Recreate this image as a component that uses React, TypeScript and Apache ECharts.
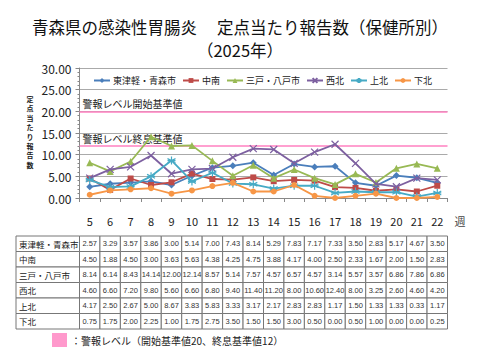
import React, { useEffect, useRef } from "react";
import * as echarts from "echarts";

const weeks = ["5", "6", "7", "8", "9", "10", "11", "12", "13", "14", "15", "16", "17", "18", "19", "20", "21", "22"];
const names = ["東津軽・青森市", "中南", "三戸・八戸市", "西北", "上北", "下北"];
const higashitsugaru = [2.57, 3.29, 3.57, 3.86, 3.0, 5.14, 7.0, 7.43, 8.14, 5.29, 7.83, 7.17, 7.33, 3.5, 2.83, 5.17, 4.67, 3.5];
const chunan = [4.5, 1.88, 4.5, 3.0, 3.63, 5.63, 4.38, 4.25, 4.75, 3.88, 4.17, 4.0, 2.5, 2.33, 1.67, 2.0, 1.5, 2.83];
const sannohe = [8.14, 6.14, 8.43, 14.14, 12.0, 12.14, 8.57, 5.14, 7.57, 4.57, 6.57, 4.57, 3.14, 5.57, 3.57, 6.86, 7.86, 6.86];
const seihoku = [4.6, 6.6, 7.2, 9.8, 5.6, 6.6, 6.8, 9.4, 11.4, 11.2, 8.0, 10.6, 12.4, 8.0, 3.25, 2.6, 4.6, 4.2];
const kamikita = [4.17, 2.5, 2.67, 5.0, 8.67, 3.83, 5.83, 3.33, 3.17, 2.17, 2.83, 2.83, 1.17, 1.5, 1.33, 1.33, 0.33, 1.17];
const shimokita = [0.75, 1.75, 2.0, 2.25, 1.0, 1.75, 2.75, 3.5, 1.5, 1.5, 3.0, 0.5, 0.0, 0.5, 1.0, 0.0, 0.0, 0.25];
const seriesData = [higashitsugaru, chunan, sannohe, seihoku, kamikita, shimokita];
const colors = ["#4A7EBB", "#BE4B48", "#98B954", "#7D60A0", "#46AAC5", "#F79646"];
const alertStart = 20;
const alertEnd = 12;
const yTicks = { min: 0, max: 30, interval: 5 };
const yNameChars = ["定", "点", "当", "た", "り", "報", "告", "数"];

const F = "'Noto Sans CJK JP', 'Noto Sans', sans-serif";

const xPath = "path://M0,0L10,10M10,0L0,10";
const starPath = "path://M5,0L5,10M0,2.5L10,7.5M0,7.5L10,2.5M0,5L10,5";

export default function App() {
  const ref = useRef<HTMLDivElement>(null);
  useEffect(() => {
    if (!ref.current) return;
    const chart = echarts.init(ref.current, null, { renderer: "svg" });
    const gridLeft = 79.5;
    const gridRight = 447.5;
    const gridTop = 68;
    const gridBottom = 198;
    const cw = (gridRight - gridLeft) / weeks.length;

    const symbols = ["diamond", "rect", "triangle", xPath, starPath, "circle"];
    const sizes = [7, 6, 7, 7, 8, 6];

    const series: any[] = seriesData.map((d, i) => {
      const stroked = i === 3 || i === 4;
      return {
        name: names[i],
        type: "line",
        data: d,
        symbol: symbols[i],
        symbolSize: sizes[i],
        lineStyle: { color: colors[i], width: 1.8 },
        itemStyle: stroked
          ? { color: "rgba(0,0,0,0)", borderColor: colors[i], borderWidth: 1.2 }
          : { color: colors[i] },
        z: 3 + i,
      };
    });
    series[0].markLine = {
      silent: true,
      symbol: "none",
      lineStyle: { color: "#FF80C0", width: 1.5, type: "solid" },
      label: {
        position: "insideStartTop",
        color: "#222",
        fontSize: 10,
        fontFamily: F,
        distance: [3, 3],
      },
      data: [
        { yAxis: alertStart, label: { formatter: "警報レベル開始基準値" } },
        { yAxis: alertEnd, label: { formatter: "警報レベル終息基準値" } },
      ],
    };

    const tableTop = 236;
    const rh = 15.5;
    const tableLeft = 16;
    const graphics: any[] = [];
    names.forEach((n, r) => {
      const y = tableTop + r * rh;
      graphics.push({
        type: "rect",
        shape: { x: tableLeft, y, width: gridLeft - tableLeft, height: rh },
        style: { fill: "#fff", stroke: "#777", lineWidth: 1 },
      });
      graphics.push({
        type: "text",
        x: tableLeft + 3,
        y: y + rh / 2,
        style: { text: n, fontSize: 8.5, fontFamily: F, fill: "#222", verticalAlign: "middle" },
      });
      seriesData[r].forEach((v, c) => {
        const x = gridLeft + c * cw;
        graphics.push({
          type: "rect",
          shape: { x, y, width: cw, height: rh },
          style: { fill: "#fff", stroke: "#777", lineWidth: 1 },
        });
        graphics.push({
          type: "text",
          x: x + cw / 2,
          y: y + rh / 2,
          style: {
            text: v.toFixed(2),
            fontSize: 7.5,
            fontFamily: "'Liberation Sans', Arial, sans-serif",
            fill: "#333",
            align: "center",
            verticalAlign: "middle",
          },
        });
      });
    });
    graphics.push({
      type: "rect",
      shape: { x: 52, y: 333, width: 15, height: 14 },
      style: { fill: "#FF99CC" },
    });
    graphics.push({
      type: "text",
      x: 71,
      y: 340,
      style: {
        text: "：警報レベル（開始基準値20、終息基準値12）",
        fontSize: 10,
        fontFamily: F,
        fill: "#222",
        verticalAlign: "middle",
      },
    });
    const step = 9.4;
    yNameChars.forEach((ch, k) => {
      graphics.push({
        type: "text",
        x: 30,
        y: 99 + k * step,
        style: {
          text: ch,
          fontSize: 7,
          fontFamily: F,
          fontWeight: "bold",
          fill: "#222",
          align: "center",
          verticalAlign: "middle",
        },
      });
    });
    graphics.push({
      type: "text",
      x: 460,
      y: 221,
      style: { text: "週", fontSize: 11, fontFamily: F, fill: "#444", align: "center", verticalAlign: "middle" },
    });

    chart.setOption({
      animation: false,
      backgroundColor: "#fff",
      title: {
        text: "青森県の感染性胃腸炎　 定点当たり報告数（保健所別）\n（2025年）",
        left: "center",
        top: 10,
        textStyle: { fontSize: 16.5, fontWeight: "normal", fontFamily: F, color: "#111", lineHeight: 23, align: "center" },
      },
      legend: {
        top: 71,
        left: 88,
        itemWidth: 16,
        itemHeight: 6,
        itemGap: 6,
        textStyle: { fontSize: 9, fontFamily: F, color: "#222", padding: [0, 0, 0, -2] },
        data: names,
      },
      grid: { left: gridLeft, right: 480 - gridRight, top: gridTop, bottom: 360 - gridBottom, containLabel: false },
      xAxis: {
        type: "category",
        data: weeks,
        boundaryGap: true,
        axisLine: { lineStyle: { color: "#888" } },
        axisTick: { show: true, length: 4, lineStyle: { color: "#888" } },
        axisLabel: { margin: 17, fontSize: 11, fontFamily: F, color: "#222" },
      },
      yAxis: {
        type: "value",
        min: yTicks.min,
        max: yTicks.max,
        interval: yTicks.interval,
        axisLine: { show: true, lineStyle: { color: "#888" } },
        axisTick: { show: true, length: 4, lineStyle: { color: "#888" } },
        minorTick: { show: true, splitNumber: 5, length: 2, lineStyle: { color: "#888" } },
        splitLine: { lineStyle: { color: "#aaa" } },
        axisLabel: {
          fontSize: 12,
          fontFamily: F,
          color: "#222",
          margin: 8,
          formatter: (v: number) => v.toFixed(2),
        },
      },
      series,
      graphic: graphics,
    });
    return () => chart.dispose();
  }, []);
  return <div ref={ref} style={{ position: "fixed", left: 0, top: 0, width: 480, height: 360 }} />;
}
